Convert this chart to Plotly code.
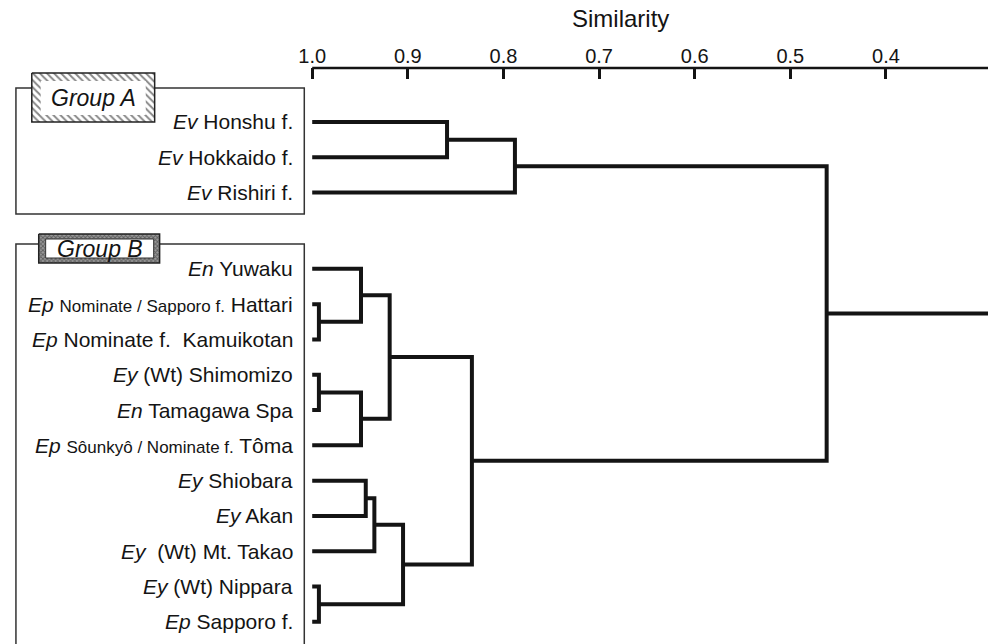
import plotly.graph_objects as go

# ---------------- data ----------------
leaf_labels = [
    "<i>Ev</i> Honshu f.",
    "<i>Ev</i> Hokkaido f.",
    "<i>Ev</i> Rishiri f.",
    "<i>En</i> Yuwaku",
    "<i>Ep</i> <span style='font-size:17px'>Nominate / Sapporo f.</span> Hattari",
    "<i>Ep</i> Nominate f.&nbsp; Kamuikotan",
    "<i>Ey</i> (Wt) Shimomizo",
    "<i>En</i> Tamagawa Spa",
    "<i>Ep</i> <span style='font-size:17px'>Sôunkyô / Nominate f.</span> Tôma",
    "<i>Ey</i> Shiobara",
    "<i>Ey</i> Akan",
    "<i>Ey</i>&nbsp; (Wt) Mt. Takao",
    "<i>Ey</i> (Wt) Nippara",
    "<i>Ep</i> Sapporo f.",
]
leaf_group = [0, 0, 0, 1, 1, 1, 1, 1, 1, 1, 1, 1, 1, 1]
group_names = ["Group A", "Group B"]

# merges: node ids 14.. created in order (child a, child b, similarity)
merge_a = [0, 14, 4, 3, 6, 18, 17, 9, 21, 12, 22, 20, 15]
merge_b = [1, 2, 5, 16, 7, 8, 19, 10, 11, 13, 23, 24, 25]
merge_sim = [0.859, 0.788, 0.993, 0.949, 0.993, 0.949, 0.919,
             0.944, 0.935, 0.993, 0.905, 0.833, 0.462]

tick_vals = [1.0, 0.9, 0.8, 0.7, 0.6, 0.5, 0.4]
tick_text = ["1.0", "0.9", "0.8", "0.7", "0.6", "0.5", "0.4"]

# ---------------- layout constants ----------------
W, H = 988, 644
FONT = "Liberation Sans, Arial, sans-serif"
INK = "#141414"
PX_PER_UNIT = 965.0
X0_PX = 306
PLOT_LEFT = 301
X_MAX = 1.0 + (X0_PX - PLOT_LEFT) / PX_PER_UNIT
X_MIN = 1.0 - (W - X0_PX) / PX_PER_UNIT
AXIS_TOP = 68
ROW = 35.3
Y0_PX = 122
GROUP_GAP = 1.16

leaf_y = [i + GROUP_GAP * g for i, g in enumerate(leaf_group)]
y_top = (AXIS_TOP - Y0_PX) / ROW
y_bot = (H - Y0_PX) / ROW

# ---------------- dendrogram paths ----------------
node_x = [1.0] * len(leaf_labels)
node_y = list(leaf_y)
xs, ys = [], []
for a, b, s in zip(merge_a, merge_b, merge_sim):
    xs += [node_x[a], s, s, node_x[b], None]
    ys += [node_y[a], node_y[a], node_y[b], node_y[b], None]
    node_x.append(s)
    node_y.append((node_y[a] + node_y[b]) / 2)
# root stem
xs += [node_x[-1], X_MIN]
ys += [node_y[-1], node_y[-1]]

fig = go.Figure()
fig.add_trace(go.Scatter(
    x=xs, y=ys, mode="lines", xaxis="x", yaxis="y",
    line=dict(color=INK, width=4), hoverinfo="skip", showlegend=False,
))

# ---------------- group boxes (pixel overlay) ----------------
def rect_path(x0, y0, x1, y1):
    return [x0, x1, x1, x0, x0], [y0, y0, y1, y1, y0]

label_boxes = [
    dict(outer=(23, 73, 147, 122), inner=(32, 81, 138, 115),
         pattern=dict(shape="\\", size=5, solidity=0.4, fgcolor="#111", bgcolor="white"),
         inner_border=0),
    dict(outer=(30, 234, 152, 263), inner=(37, 239, 146, 258),
         pattern=dict(shape="x", size=3, solidity=0.5, fgcolor="#222", bgcolor="#999"),
         inner_border=1),
]
big_boxes = [(7, 88, 298, 214), (7, 244, 298, 700)]

shapes = []
for (x0, y0, x1, y1) in big_boxes:
    shapes.append(dict(type="rect", xref="x2", yref="y2", x0=x0, y0=y0, x1=x1, y1=y1,
                       line=dict(color="#333", width=1.5), fillcolor="rgba(0,0,0,0)",
                       layer="below"))

for gi, lb in enumerate(label_boxes):
    px_, py_ = rect_path(*lb["outer"])
    fig.add_trace(go.Scatter(
        x=px_, y=py_, xaxis="x2", yaxis="y2", mode="lines", fill="toself",
        fillcolor="white", fillpattern=lb["pattern"],
        line=dict(color="#222", width=1.5), hoverinfo="skip", showlegend=False,
    ))
    ix0, iy0, ix1, iy1 = lb["inner"]
    shapes.append(dict(type="rect", xref="x2", yref="y2", x0=ix0, y0=iy0, x1=ix1, y1=iy1,
                       fillcolor="white",
                       line=dict(color="#333", width=lb["inner_border"]) if lb["inner_border"] else dict(width=0),
                       layer="above"))

# axis line starting at similarity 1.0
shapes.append(dict(type="line", xref="x", yref="y domain", x0=1.0, x1=X_MIN, y0=1, y1=1,
                   line=dict(color=INK, width=2.5)))

annotations = []
for lab, y in zip(leaf_labels, leaf_y):
    annotations.append(dict(text=lab, xref="paper", yref="y", x=289 / W, y=y,
                            xanchor="right", yanchor="middle", showarrow=False,
                            font=dict(family=FONT, size=21, color=INK)))
for gi, lb in enumerate(label_boxes):
    ix0, iy0, ix1, iy1 = lb["inner"]
    annotations.append(dict(text="<i>%s</i>" % group_names[gi], xref="x2", yref="y2",
                            x=(ix0 + ix1) / 2, y=(iy0 + iy1) / 2, xanchor="center",
                            yanchor="middle", showarrow=False,
                            font=dict(family=FONT, size=23, color=INK)))
annotations.append(dict(text="Similarity", xref="paper", yref="paper",
                        x=617 / W, y=1 - 18 / H, xanchor="center", yanchor="middle",
                        showarrow=False, font=dict(family=FONT, size=24, color=INK)))

fig.update_layout(
    width=W, height=H, margin=dict(l=0, r=0, t=0, b=0),
    paper_bgcolor="white", plot_bgcolor="rgba(0,0,0,0)",
    showlegend=False,
    xaxis=dict(domain=[PLOT_LEFT / W, 1], range=[X_MAX, X_MIN], side="top", anchor="y",
               tickmode="array", tickvals=tick_vals, ticktext=tick_text,
               ticks="inside", ticklen=11, tickwidth=2.5, tickcolor=INK,
               showline=False, showgrid=False, zeroline=False,
               tickfont=dict(family=FONT, size=20, color=INK)),
    yaxis=dict(domain=[0, 1 - AXIS_TOP / H], range=[y_bot, y_top], visible=False,
               anchor="x"),
    xaxis2=dict(domain=[0, 1], range=[0, W], visible=False, anchor="y2"),
    yaxis2=dict(domain=[0, 1], range=[H, 0], visible=False, anchor="x2"),
    shapes=shapes, annotations=annotations,
)

fig.write_html("out.html")
